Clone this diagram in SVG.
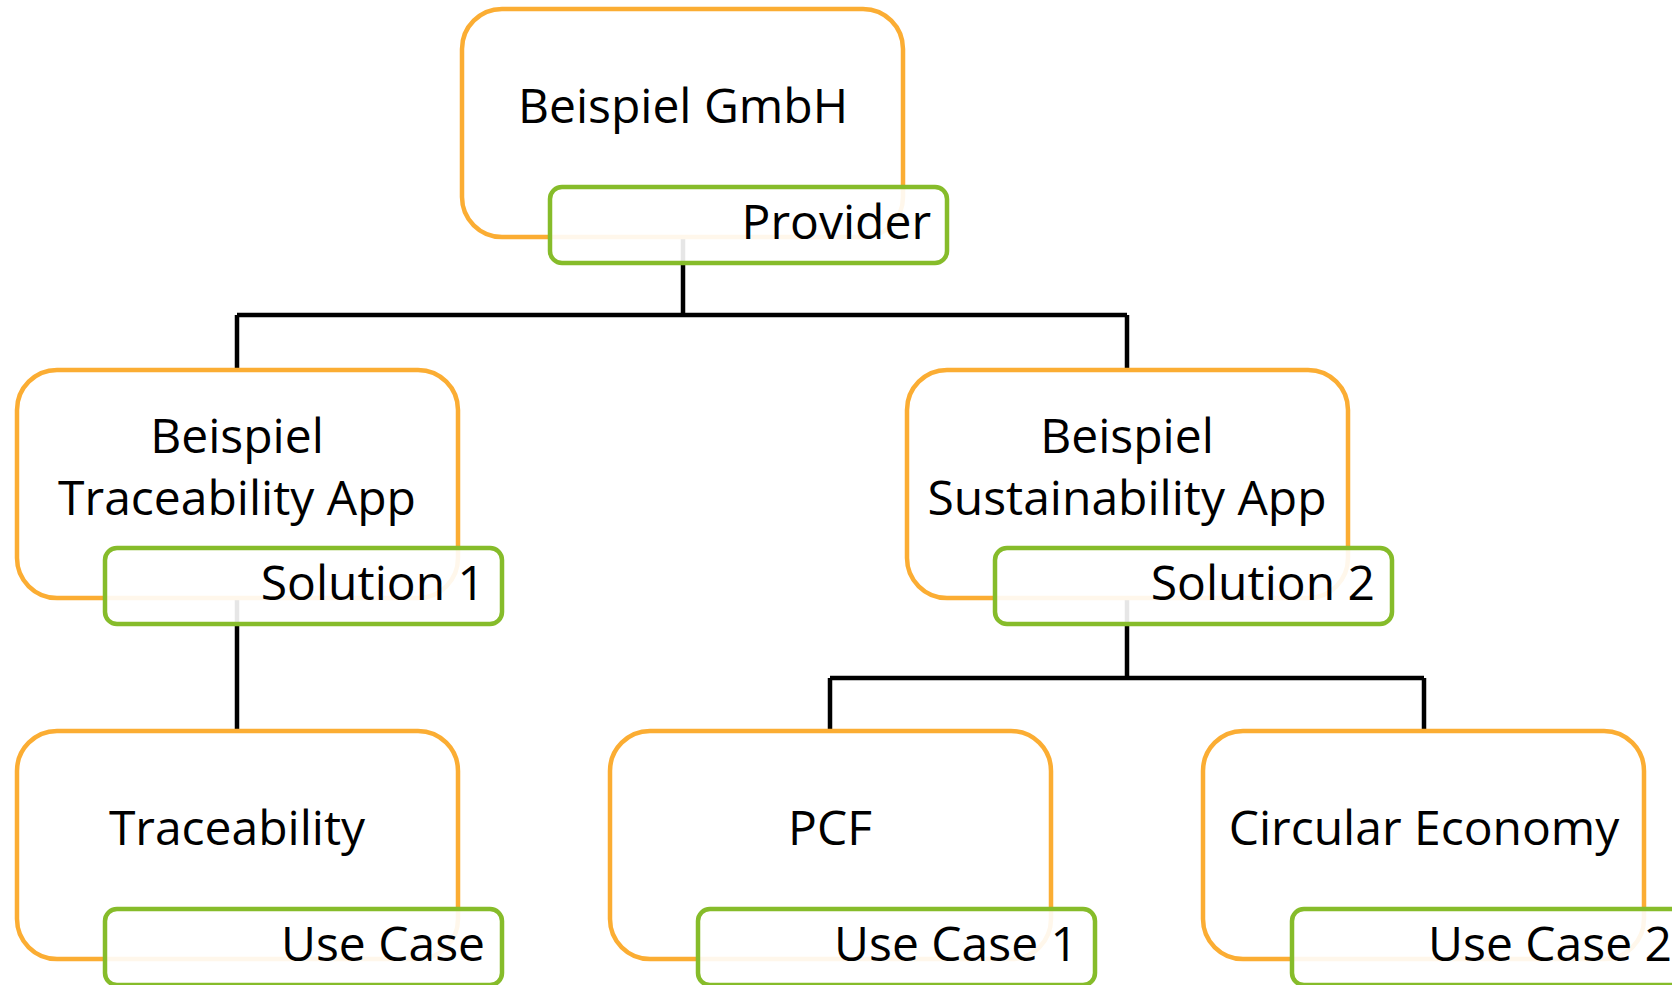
<svg xmlns="http://www.w3.org/2000/svg" width="1672" height="985" viewBox="0 0 1672 985">
<style>
.o{fill:#fff;stroke:#FBAD33;stroke-width:4.5}
.g{fill:#fff;fill-opacity:0.9;stroke:#86BC2A;stroke-width:4.5}
.t{font-family:"Open Sans","Noto Sans",sans-serif;font-size:48px;fill:#000;text-anchor:middle}
.l{font-family:"Open Sans","Noto Sans",sans-serif;font-size:48px;fill:#000;text-anchor:end}
.c{fill:none;stroke:#000;stroke-width:4.5}
</style>
<rect width="1672" height="985" fill="#fff"/>
<g id="connectors">
<path class="c" d="M683 237V315M237 315H1127M237 315V370M1127 315V370"/>
<path class="c" d="M237 598V731"/>
<path class="c" d="M1127 598V678M830 678H1424M830 678V731M1424 678V731"/>
</g>
<g id="n-provider">
<rect class="o" x="462" y="9" width="441" height="228" rx="40"/>
<text class="t" x="683" y="123">Beispiel GmbH</text>
<rect class="g" x="550" y="187" width="397" height="76" rx="12"/>
<text class="l" x="931" y="239">Provider</text>
</g>
<g id="n-solution1">
<rect class="o" x="17" y="370" width="441" height="228" rx="40"/>
<text class="t" x="237" y="453">Beispiel</text>
<text class="t" x="237" y="515">Traceability App</text>
<rect class="g" x="105" y="548" width="397" height="76" rx="12"/>
<text class="l" x="485" y="600">Solution 1</text>
</g>
<g id="n-solution2">
<rect class="o" x="907" y="370" width="441" height="228" rx="40"/>
<text class="t" x="1127" y="453">Beispiel</text>
<text class="t" x="1127" y="515">Sustainability App</text>
<rect class="g" x="995" y="548" width="397" height="76" rx="12"/>
<text class="l" x="1375" y="600">Solution 2</text>
</g>
<g id="n-usecase">
<rect class="o" x="17" y="731" width="441" height="228" rx="40"/>
<text class="t" x="237" y="845">Traceability</text>
<rect class="g" x="105" y="909" width="397" height="76" rx="12"/>
<text class="l" x="485" y="961">Use Case</text>
</g>
<g id="n-usecase1">
<rect class="o" x="610" y="731" width="441" height="228" rx="40"/>
<text class="t" x="830" y="845">PCF</text>
<rect class="g" x="698" y="909" width="397" height="76" rx="12"/>
<text class="l" x="1078" y="961">Use Case 1</text>
</g>
<g id="n-usecase2">
<rect class="o" x="1203" y="731" width="441" height="228" rx="40"/>
<text class="t" x="1424" y="845">Circular Economy</text>
<rect class="g" x="1292" y="909" width="397" height="76" rx="12"/>
<text class="l" x="1672" y="961">Use Case 2</text>
</g>
</svg>
